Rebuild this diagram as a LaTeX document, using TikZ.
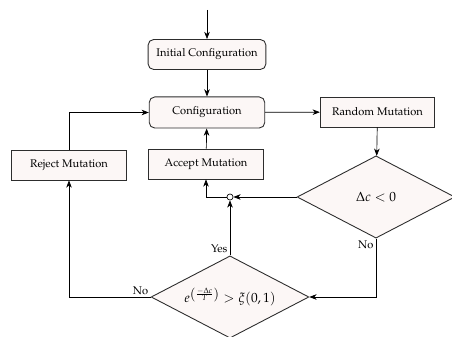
\documentclass[tikz,border=0pt]{standalone}
\usepackage{amsmath,amssymb}
\usepackage[T1]{fontenc}
\usepackage{mathpazo}
\usetikzlibrary{shapes.geometric,arrows.meta}

\definecolor{boxfill}{RGB}{252,247,246}
\definecolor{boxline}{RGB}{45,45,45}

\begin{document}
\begin{tikzpicture}[x=0.9pt,y=-0.9pt,>={Stealth[length=6.5pt,width=5pt,inset=2pt]},
  every path/.style={line width=0.6pt},
  roundbox/.style={draw=boxline,line width=0.8pt,fill=boxfill,rounded corners=5pt,
    minimum width=106pt,minimum height=27pt,inner sep=2pt},
  sqbox/.style={draw=boxline,line width=0.8pt,fill=boxfill,
    minimum width=103pt,minimum height=27pt,inner sep=2pt},
  test/.style={draw=boxline,line width=0.8pt,fill=boxfill,diamond,shape aspect=1.9,
    minimum width=142pt,minimum height=74pt,inner sep=0pt}]
\useasboundingbox (0,0) rectangle (452,337);
\coordinate (start) at (207,10);
\node[roundbox] (init) at (207,54.5) {Initial Configuration};
\node[roundbox,minimum width=104pt,minimum height=28pt] (conf) at (207,112.5) {Configuration};
\node[sqbox] (rand) at (377.5,112) {Random Mutation};
\node[sqbox] (accept) at (206,164) {Accept Mutation};
\node[sqbox] (reject) at (69,165) {Reject Mutation};
\node[test] (dc) at (376,197) {\large $\Delta c < 0$};
\node[test] (acc) at (230,297) {\large $e^{\left(\frac{-\Delta c}{T}\right)} > \xi(0,1)$};
\node[draw,circle,fill=white,inner sep=0pt,minimum size=5.5pt] (junc) at (230,197) {};
% main loop
\draw[->] (start) -- (init);
\draw[->] (init) -- (conf);
\draw[->] (conf) -- (rand);
\draw[->] (rand) -- (dc);
\draw[->] (dc.west) -- (junc);
\draw[->] (junc.west) -| (accept.south);
\draw[->] (accept) -- (conf);
% test branches
\draw[->] (acc.north) node[above left,inner sep=2pt] {Yes} -- (junc);
\draw[->] (dc.south) node[below left,inner sep=2pt] {No} |- (acc.east);
\draw[->] (acc.west) node[above left,inner sep=2pt] {No} -| (reject.south);
\draw[->] (reject.north) |- (conf.west);
\end{tikzpicture}
\end{document}
